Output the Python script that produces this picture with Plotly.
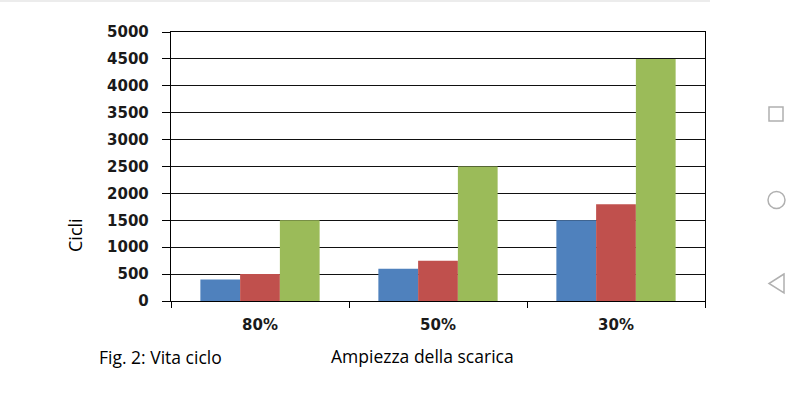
import plotly.graph_objects as go

categories = ["80%", "50%", "30%"]
series_a = [400, 600, 1500]
series_b = [500, 750, 1800]
series_c = [1500, 2500, 4500]
y_ticks = [0, 500, 1000, 1500, 2000, 2500, 3000, 3500, 4000, 4500, 5000]

W, H = 800, 400
L, R, T, B = 171, 95, 32, 99
PW, PH = W - L - R, H - T - B

def px(x):
    return (x - L) / PW

def py(y):
    return (H - B - y) / PH

fig = go.Figure()
fig.add_trace(go.Bar(x=categories, y=series_a, marker=dict(color="#4F81BD", line=dict(width=0))))
fig.add_trace(go.Bar(x=categories, y=series_b, marker=dict(color="#C0504D", line=dict(width=0))))
fig.add_trace(go.Bar(x=categories, y=series_c, marker=dict(color="#9BBB59", line=dict(width=0))))

tick_font = dict(family="DejaVu Sans", size=15, color="#1a1a1a", weight="bold")
cap_font = dict(family="Open Sans", size=17.5, color="#000000")

fig.update_layout(
    width=W, height=H,
    margin=dict(l=L, r=R, t=T, b=B, pad=0),
    paper_bgcolor="white", plot_bgcolor="white",
    showlegend=False,
    barmode="group", bargap=0.33, bargroupgap=0,
    xaxis=dict(
        type="category", showline=True, linecolor="#000000", linewidth=1.4, mirror=True,
        ticks="outside", tickson="boundaries", ticklen=6, tickwidth=1.4, tickcolor="#000000",
        showgrid=False, tickfont=tick_font, ticklabelstandoff=10,
    ),
    yaxis=dict(
        range=[0, 5000], tickvals=y_ticks, showline=True, linecolor="#000000", linewidth=1.4, mirror=True,
        ticks="outside", ticklen=8, tickwidth=1.4, tickcolor="#000000",
        showgrid=True, gridcolor="#111111", gridwidth=1.4, zeroline=False,
        tickfont=tick_font, ticklabelstandoff=10,
    ),
)

fig.add_annotation(text="Cicli", x=px(75), y=py(235), xref="paper", yref="paper",
                   showarrow=False, textangle=-90, font=dict(family="Open Sans", size=18, color="#000"),
                   xanchor="center", yanchor="middle")
fig.add_annotation(text="Fig. 2: Vita ciclo", x=px(97), y=py(357), xref="paper", yref="paper",
                   showarrow=False, font=cap_font, xanchor="left", yanchor="middle")
fig.add_annotation(text="Ampiezza della scarica", x=px(422), y=py(356), xref="paper", yref="paper",
                   showarrow=False, font=cap_font, xanchor="center", yanchor="middle")

gray = "#b0b0b0"
fig.add_shape(type="line", xref="paper", yref="paper", x0=px(0), x1=px(710), y0=py(1), y1=py(1),
              line=dict(color="#e6e6e6", width=1.5))
fig.add_shape(type="rect", xref="paper", yref="paper", x0=px(769), x1=px(783), y0=py(107), y1=py(121),
              line=dict(color=gray, width=1.5))
fig.add_shape(type="circle", xref="paper", yref="paper", x0=px(768), x1=px(785), y0=py(191.5), y1=py(208.5),
              line=dict(color=gray, width=1.5))
fig.add_shape(type="path", xref="paper", yref="paper",
              path=f"M {px(784)} {py(274)} L {px(769)} {py(283.5)} L {px(784)} {py(293)} Z",
              line=dict(color=gray, width=1.5))

fig.write_html("out.html", config={"displayModeBar": False},
               post_script="document.body.style.margin='0';document.body.style.padding='0';")
